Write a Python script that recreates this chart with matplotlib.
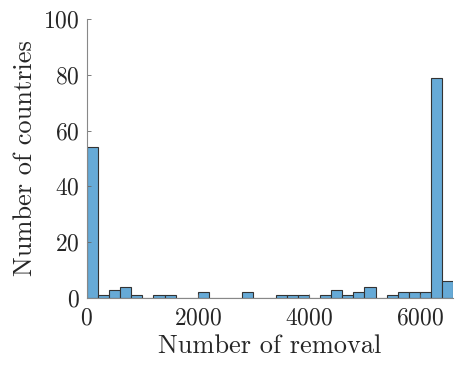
import numpy as np
import matplotlib.pyplot as plt

plt.rcParams['font.family'] = 'cmr10'
plt.rcParams['mathtext.fontset'] = 'cm'
plt.rcParams['axes.formatter.use_mathtext'] = True

# histogram counts per 200-wide bin, starting at 0
counts = [54, 1, 3, 4, 1, 0, 1, 1, 0, 0, 2, 0, 0, 0, 2, 0, 0,
          1, 1, 1, 0, 1, 3, 1, 2, 4, 0, 1, 2, 2, 2, 79, 6]
bin_width = 200
edges = np.arange(len(counts) + 1) * bin_width

fig = plt.figure(figsize=(4.62, 3.67), dpi=100)
ax = fig.add_axes([0.188, 0.188, 0.793, 0.760])

ax.bar(edges[:-1], counts, width=bin_width, align='edge',
       color='#66aad7', edgecolor='#333333', linewidth=0.8)

ax.set_xlim(edges[0], edges[-1])
ax.set_ylim(0, 100)
ax.set_xticks([0, 2000, 4000, 6000])
ax.set_yticks([0, 20, 40, 60, 80, 100])

for s in ['top', 'right']:
    ax.spines[s].set_visible(False)
for s in ['left', 'bottom']:
    ax.spines[s].set_color('#888888')
    ax.spines[s].set_linewidth(0.8)
ax.tick_params(direction='in', length=3, width=0.6, color='#666666',
               labelsize=17, labelcolor='#262626')
ax.tick_params(axis='x', pad=7)
ax.tick_params(axis='y', pad=5)

ax.set_xlabel('Number of removal', fontsize=19, color='#262626', labelpad=3)
ax.set_ylabel('Number of countries', fontsize=19, color='#262626', labelpad=5)

fig.savefig('out.png', dpi=100)
